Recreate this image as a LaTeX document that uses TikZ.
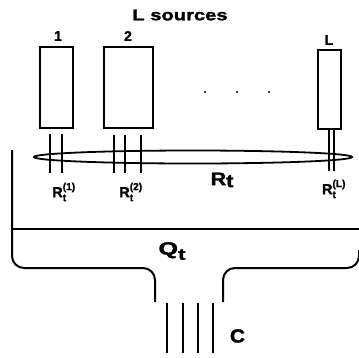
\documentclass[tikz,border=0pt]{standalone}
\usetikzlibrary{shapes.geometric}
\usepackage{amsmath}
\usepackage{graphicx}
\usepackage{fontspec}
\setmainfont{Liberation Sans}[BoldFeatures={FakeBold=1.5}]
\newcommand{\Rsrc}[1]{$\textbf{R}^{\textbf{(#1)}}_{\textbf{t}}$}
\tikzset{
  srcbox/.style={draw, line width=2pt, inner sep=0pt},
  wire/.style={line width=2pt},
  wall/.style={line width=2pt, rounded corners=12pt},
  chan/.style={line width=2.2pt},
  lbl/.style={inner sep=0pt, font=\bfseries\fontsize{14}{16}\selectfont},
  big/.style={inner sep=0pt, font=\bfseries\fontsize{18}{20}\selectfont},
  rlab/.style={inner sep=0pt, font=\bfseries\fontsize{14.5}{16}\selectfont},
}
\begin{document}
\begin{tikzpicture}[x=1pt,y=-1pt]
\useasboundingbox (0,0) rectangle (359,357);
% title
\node[big, font=\bfseries\fontsize{15.5}{18}\selectfont] (title) at (180,15) {\scalebox{1.3}[1]{L sources}};
% source boxes
\node[srcbox, minimum width=33pt, minimum height=81pt] (s1) at (56.5,87.5) {};
\node[srcbox, minimum width=49pt, minimum height=81pt] (s2) at (128.5,87.5) {};
\node[srcbox, minimum width=23pt, minimum height=79pt] (sL) at (329.5,89.5) {};
\node[lbl] (n1) at (58,36) {1};
\node[lbl] (n2) at (128,36) {2};
\node[lbl] (nL) at (329,40) {L};
% dots
\fill (205,92) circle (1.1pt) (237,92) circle (1.1pt) (269,92) circle (1.1pt);
% ellipse R_t
\node[draw, ellipse, line width=1.8pt, minimum width=318pt, minimum height=13pt, inner sep=0pt] (Rt) at (193,157) {};
% wires
\coordinate (w1a) at (50,134); \coordinate (w1b) at (50,173);
\coordinate (w2a) at (62,134); \coordinate (w2b) at (62,173);
\draw[wire] (w1a) -- (w1b) (w2a) -- (w2b);
\coordinate (w3a) at (114,135); \coordinate (w3b) at (114,173);
\coordinate (w4a) at (125,135); \coordinate (w4b) at (125,173);
\coordinate (w5a) at (141,135); \coordinate (w5b) at (141,173);
\draw[wire] (w3a) -- (w3b) (w4a) -- (w4b) (w5a) -- (w5b);
\coordinate (w6a) at (329,130); \coordinate (w6b) at (329,171);
\coordinate (w7a) at (334,130); \coordinate (w7b) at (334,171);
\draw[wire] (w6a) -- (w6b) (w7a) -- (w7b);
% labels
\node[rlab] (r1) at (64,192) {\Rsrc{1}};
\node[rlab] (r2) at (131,192) {\Rsrc{2}};
\node[rlab] (rL) at (334,189) {\Rsrc{L}};
\node[big] (RtL) at (222,180) {\scalebox{1.2}[1]{R\raisebox{-2pt}{t}}};
% container
\draw[wall] (12,150) -- (12,268) -- (155,268) -- (155,302);
\draw[wall] (223,302) -- (223,268) -- (359,268) -- (359,250);
\draw[line width=2pt] (12,229) -- (359,229);
\node[big] (Qt) at (172,251) {\scalebox{1.4}[1]{Q\raisebox{-5pt}{\fontsize{16}{16}\selectfont t}}};
% channel C
\draw[chan] (167,303) -- (167,353) (183,303) -- (183,353) (198,303) -- (198,353) (213,303) -- (213,353);
\node[lbl, font=\bfseries\fontsize{19}{20}\selectfont] (C) at (237.5,336) {\scalebox{1.1}[1]{C}};
\end{tikzpicture}
\end{document}
